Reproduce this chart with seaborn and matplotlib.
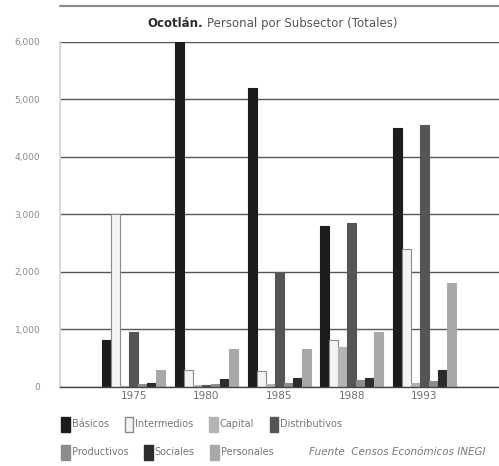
import matplotlib
matplotlib.use("Agg")
import matplotlib.pyplot as plt
from matplotlib.patches import Patch
import seaborn as sns
import pandas as pd

# Personal ocupado por subsector, Ocotlán (censos económicos)
years = ["1975", "1980", "1985", "1988", "1993"]
subsectors = ["Básicos", "Intermedios", "Capital", "Distributivos",
              "Productivos", "Sociales", "Personales"]

basicos       = [820, 6000, 5200, 2800, 4500]
intermedios   = [3000, 300, 280, 820, 2400]
capital       = [20, 30, 40, 700, 60]
distributivos = [950, 30, 2000, 2850, 4550]
productivos   = [40, 40, 60, 120, 100]
sociales      = [60, 130, 150, 150, 300]
personales    = [300, 650, 650, 950, 1800]

values = [basicos, intermedios, capital, distributivos,
          productivos, sociales, personales]

rows = []
for name, series in zip(subsectors, values):
    for y, v in zip(years, series):
        rows.append({"Año": y, "Subsector": name, "Personal": v})
df = pd.DataFrame(rows)

colors = ["#1c1c1c", "#f4f4f4", "#b4b4b4", "#555555",
          "#8c8c8c", "#2c2c2c", "#a8a8a8"]
edges = ["#1c1c1c", "#8a8a8a", "#b4b4b4", "#555555",
         "#8c8c8c", "#2c2c2c", "#a8a8a8"]

sns.set_theme(style="white")
plt.rcParams["font.family"] = ["DejaVu Sans"]

fig = plt.figure(figsize=(4.99, 4.66), dpi=100)
ax = fig.add_axes([0.12, 0.17, 0.88, 0.74])

sns.barplot(data=df, x="Año", y="Personal", hue="Subsector",
            hue_order=subsectors, order=years, palette=colors,
            width=0.87, gap=0, dodge=True, legend=False, ax=ax,
            saturation=1, errorbar=None)

# per-series outline colours
for container, ec in zip(ax.containers, edges):
    for bar in container:
        bar.set_edgecolor(ec)
        bar.set_linewidth(0.8)

ax.set_xlim(-1.02, 5.03)
ax.set_ylim(0, 6000)
ax.set_yticks(range(0, 6001, 1000))
ax.set_yticklabels(["0", "1,000", "2,000", "3,000", "4,000", "5,000", "6,000"])
ax.yaxis.grid(True, color="#555555", linewidth=1.0)
ax.set_axisbelow(True)
ax.set_xlabel("")
ax.set_ylabel("")
ax.tick_params(axis="y", labelsize=6.5, labelcolor="#8a8a8a", length=0, pad=14)
ax.tick_params(axis="x", labelsize=7.5, labelcolor="#707070", length=0, pad=3)

# separators between year groups
ax.set_xticks([i + 0.5 for i in range(-1, 5)], minor=True)
ax.tick_params(axis="x", which="minor", length=5, color="#9a9a9a", width=0.8)

for side in ["top", "right"]:
    ax.spines[side].set_visible(False)
ax.spines["left"].set_color("#d8d8d8")
ax.spines["left"].set_linewidth(1.5)
ax.spines["bottom"].set_color("#444444")
ax.spines["bottom"].set_linewidth(1.0)

# title: bold place name followed by description
fig.text(0.407, 0.950, "Ocotlán.", ha="right", va="center",
         fontsize=8.5, fontweight="bold", color="#2a2a2a")
fig.text(0.415, 0.950, "Personal por Subsector (Totales)", ha="left",
         va="center", fontsize=8.5, color="#555555")
fig.add_artist(plt.Line2D([0.12, 1.0], [0.988, 0.988], color="#8a8a8a",
                          linewidth=1.5, transform=fig.transFigure))

handles = [Patch(facecolor=c, edgecolor=e, label=n)
           for c, e, n in zip(colors, edges, subsectors)]

leg_kw = dict(frameon=False, fontsize=7, handlelength=0.9, handleheight=2.0,
              handletextpad=0.2, columnspacing=1.6, labelcolor="#777777",
              borderaxespad=0)
fig.legend(handles=handles[:4], ncol=4, loc="center left",
           bbox_to_anchor=(0.115, 0.09), **leg_kw)
fig.legend(handles=handles[4:], ncol=3, loc="center left",
           bbox_to_anchor=(0.115, 0.03), **leg_kw)

fig.text(0.62, 0.03, "Fuente  Censos Económicos INEGI", ha="left",
         va="center", fontsize=7.5, style="italic", color="#777777")

fig.savefig("out.png", dpi=100)
